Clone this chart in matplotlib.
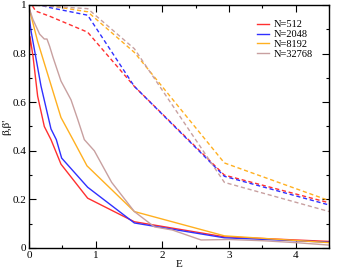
import matplotlib
matplotlib.use('Agg')
import matplotlib.pyplot as plt
from matplotlib.ticker import MultipleLocator

plt.rcParams['font.family'] = ['Liberation Serif', 'DejaVu Serif']

labels = ['N=512', 'N=2048', 'N=8192', 'N=32768']
colors = ['#ff3030', '#3030ff', '#ffb020', '#c8a0a0']

# beta (solid)
e_red = [0, 0.015, 0.06, 0.13, 0.23, 0.33, 0.48, 0.88, 1.58, 2.93, 4.5]
b_red = [0.735, 0.87, 0.79, 0.625, 0.50, 0.446, 0.345, 0.205, 0.108, 0.046, 0.027]
e_blue = [0, 0.035, 0.18, 0.33, 0.41, 0.49, 0.88, 1.58, 2.93, 4.5]
b_blue = [0.955, 0.887, 0.667, 0.49, 0.446, 0.37, 0.25, 0.103, 0.042, 0.024]
e_orange = [0, 0.13, 0.48, 0.66, 0.87, 1.58, 2.93, 4.5]
b_orange = [0.99, 0.85, 0.537, 0.446, 0.338, 0.15, 0.05, 0.022]
e_brown = [0, 0.06, 0.16, 0.23, 0.27, 0.31, 0.36, 0.48, 0.63, 0.73, 0.83,
           0.98, 1.24, 1.58, 1.88, 2.15, 2.58, 3.0, 3.5, 4.0, 4.5]
b_brown = [0.99, 0.94, 0.88, 0.86, 0.86, 0.83, 0.785, 0.687, 0.61, 0.53, 0.446,
           0.40, 0.27, 0.15, 0.087, 0.074, 0.033, 0.035, 0.03, 0.022, 0.012]

# beta' (dashed)
e_red_d = [0, 0.1, 0.3, 0.88, 1.58, 2.93, 4.5]
b_red_d = [1.02, 0.975, 0.955, 0.888, 0.665, 0.30, 0.186]
e_blue_d = [0.1, 0.3, 0.88, 1.58, 2.93, 4.5]
b_blue_d = [1.005, 0.99, 0.958, 0.665, 0.295, 0.177]
e_orange_d = [0, 0.24, 0.88, 1.58, 2.93, 4.5]
b_orange_d = [1.01, 1.0, 0.972, 0.805, 0.35, 0.195]
e_brown_d = [0, 0.88, 1.58, 2.93, 4.5]
b_brown_d = [1.0, 0.985, 0.82, 0.27, 0.15]

solid = [(e_red, b_red), (e_blue, b_blue), (e_orange, b_orange), (e_brown, b_brown)]
dashed = [(e_red_d, b_red_d), (e_blue_d, b_blue_d), (e_orange_d, b_orange_d), (e_brown_d, b_brown_d)]

fig = plt.figure(figsize=(3.49, 2.70), dpi=100)
ax = fig.add_axes([0.083, 0.0815, 0.86, 0.9])

for (x, y), c, lab in zip(solid, colors, labels):
    ax.plot(x, y, color=c, lw=1.0, label=lab)
for (x, y), c in zip(dashed, colors):
    ax.plot(x, y, color=c, lw=1.0, ls=(0, (3, 2)))

ax.set_xlim(0, 4.5)
ax.set_ylim(0, 1)
ax.xaxis.set_major_locator(MultipleLocator(1))
ax.xaxis.set_minor_locator(MultipleLocator(0.5))
ax.yaxis.set_major_locator(MultipleLocator(0.2))
ax.yaxis.set_minor_locator(MultipleLocator(0.1))
ax.tick_params(which='both', direction='in', top=True, right=True, labelsize=8, pad=2)
ax.tick_params(which='major', length=5, width=0.8)
ax.tick_params(which='minor', length=2.5, width=0.8)
ax.set_yticks([0, 0.2, 0.4, 0.6, 0.8, 1.0])
ax.set_yticklabels(['0', '0.2', '0.4', '0.6', '0.8', '1'])
ax.set_xticks([0, 1, 2, 3, 4])
ax.set_xticklabels(['0', '1', '2', '3', '4'])
for s in ax.spines.values():
    s.set_linewidth(1.0)

ax.set_xlabel('E', fontsize=8, labelpad=0)
ax.set_ylabel("β,β'", fontsize=8, labelpad=1)

ax.legend(loc='upper right', bbox_to_anchor=(0.96, 0.955), frameon=False, fontsize=7.5,
          handlelength=1.1, handletextpad=0.5, labelspacing=0.05, borderaxespad=0)

fig.savefig('out.png', dpi=100)
